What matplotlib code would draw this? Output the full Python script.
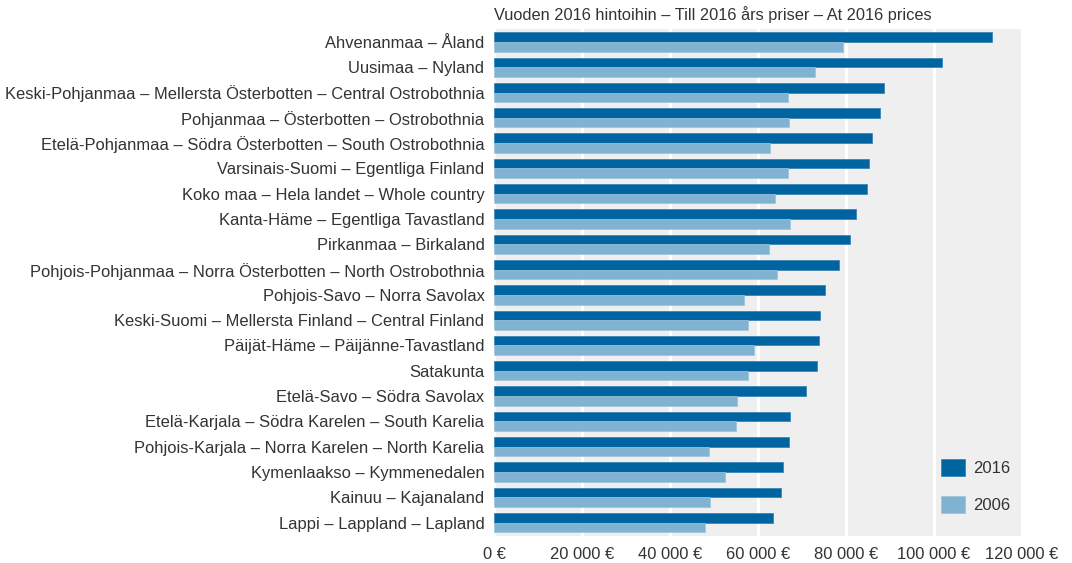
import matplotlib

matplotlib.use("Agg")
import matplotlib.pyplot as plt
import numpy as np
from matplotlib.ticker import FuncFormatter

plt.rcParams["font.family"] = ["Liberation Sans", "DejaVu Sans"]

DARK = "#0064a1"
LIGHT = "#80b2d2"
PANEL = "#efefef"
TEXT = "#333333"

regions = [
    "Ahvenanmaa – Åland",
    "Uusimaa – Nyland",
    "Keski-Pohjanmaa – Mellersta Österbotten – Central Ostrobothnia",
    "Pohjanmaa – Österbotten – Ostrobothnia",
    "Etelä-Pohjanmaa – Södra Österbotten – South Ostrobothnia",
    "Varsinais-Suomi – Egentliga Finland",
    "Koko maa – Hela landet – Whole country",
    "Kanta-Häme – Egentliga Tavastland",
    "Pirkanmaa – Birkaland",
    "Pohjois-Pohjanmaa – Norra Österbotten – North Ostrobothnia",
    "Pohjois-Savo – Norra Savolax",
    "Keski-Suomi – Mellersta Finland – Central Finland",
    "Päijät-Häme – Päijänne-Tavastland",
    "Satakunta",
    "Etelä-Savo – Södra Savolax",
    "Etelä-Karjala – Södra Karelen – South Karelia",
    "Pohjois-Karjala – Norra Karelen – North Karelia",
    "Kymenlaakso – Kymmenedalen",
    "Kainuu – Kajanaland",
    "Lappi – Lappland – Lapland",
]
values_2016 = [113300, 101800, 88700, 87800, 85900, 85300, 84900, 82400, 81000, 78500,
               75300, 74200, 74000, 73500, 71000, 67400, 67100, 65800, 65300, 63400]
values_2006 = [79300, 73000, 66800, 67100, 62800, 66900, 64000, 67200, 62600, 64400,
               56900, 57800, 59200, 57800, 55300, 55100, 48900, 52500, 49000, 48000]
x_ticks = [0, 20000, 40000, 60000, 80000, 100000, 120000]

fig = plt.figure(figsize=(10.72, 5.63), dpi=100)
ax = fig.add_axes([0.461, 0.048, 0.492, 0.900])
ax.set_facecolor(PANEL)

y = np.arange(len(regions))
h = 0.38
ax.barh(y - h / 2, values_2016, height=h, color=DARK, edgecolor="#2f7fb3",
        linewidth=0.5, label="2016", zorder=3)
ax.barh(y + h / 2, values_2006, height=h, color=LIGHT, edgecolor="#9cc3dc",
        linewidth=0.5, label="2006", zorder=3)

ax.set_xlim(0, 120000)
ax.set_ylim(len(regions) - 0.47, -0.5)
ax.set_xticks(x_ticks)
ax.xaxis.set_major_formatter(FuncFormatter(lambda v, _: f"{int(v):,} €".replace(",", " ")))
ax.grid(axis="x", color="white", linewidth=2.2, zorder=1)
ax.set_axisbelow(True)

ax.set_yticks(y)
ax.set_yticklabels(regions)
for lbl in ax.get_yticklabels():
    lbl.set_color("black" if lbl.get_text().startswith("Koko maa") else TEXT)
ax.tick_params(axis="both", length=0, labelsize=11.9, colors=TEXT)
ax.tick_params(axis="y", pad=7)
ax.tick_params(axis="x", pad=8)
for s in ax.spines.values():
    s.set_visible(False)

ax.text(0, 1.012, "Vuoden 2016 hintoihin – Till 2016 års priser – At 2016 prices",
        transform=ax.transAxes, ha="left", va="bottom", fontsize=11.8, color=TEXT)

leg = ax.legend(loc="lower right", bbox_to_anchor=(1.0, 0.022), frameon=False,
                fontsize=12, handlelength=1.45, handleheight=1.25,
                labelspacing=1.15, handletextpad=0.45, borderaxespad=0.3)
for t in leg.get_texts():
    t.set_color(TEXT)

fig.savefig("out.png", dpi=100, facecolor="white")
